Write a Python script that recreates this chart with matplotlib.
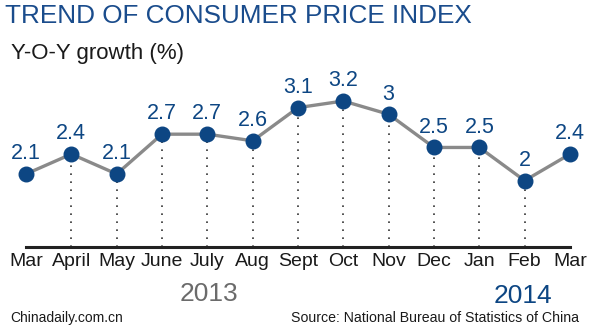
import matplotlib.pyplot as plt

plt.rcParams['font.family'] = ['Liberation Sans', 'DejaVu Sans']

# CPI year-on-year growth, March 2013 to March 2014
months = ['Mar', 'April', 'May', 'June', 'July', 'Aug', 'Sept', 'Oct',
          'Nov', 'Dec', 'Jan', 'Feb', 'Mar']
cpi = [2.1, 2.4, 2.1, 2.7, 2.7, 2.6, 3.1, 3.2, 3.0, 2.5, 2.5, 2.0, 2.4]
value_labels = ['2.1', '2.4', '2.1', '2.7', '2.7', '2.6', '3.1', '3.2',
                '3', '2.5', '2.5', '2', '2.4']

blue = '#0d4683'
gray_line = '#8a8a8a'

fig = plt.figure(figsize=(5.96, 3.28), dpi=100)
ax = fig.add_axes([26 / 596, (328 - 247) / 328, (570 - 26) / 596, 146 / 328])
ax.set_xlim(0, len(months) - 1)
ax.set_ylim(1.0, 3.2)

x = list(range(len(months)))

# dotted drop lines (not for the two end points)
ax.vlines(x[1:-1], 1.0, cpi[1:-1], colors='#333333', lw=1.2,
          linestyles=(0, (1, 3.8)), zorder=1)

ax.plot(x, cpi, color=gray_line, lw=2.4, zorder=2, clip_on=False)
ax.scatter(x, cpi, s=110, color=blue, zorder=3, clip_on=False)

for xi, yi, lab in zip(x, cpi, value_labels):
    ax.annotate(lab, (xi, yi), xytext=(0, 7), textcoords='offset points',
                ha='center', va='bottom', fontsize=15.5, color=blue)

for s in ['top', 'right', 'left']:
    ax.spines[s].set_visible(False)
ax.spines['bottom'].set_linewidth(2.2)
ax.spines['bottom'].set_color('#222222')
ax.set_yticks([])
ax.set_xticks(x)
ax.set_xticklabels(months, fontsize=14, color='#1a1a1a')
ax.tick_params(axis='x', length=0, pad=4)

fig.text(5 / 596, 1 - 16 / 328, 'TREND OF CONSUMER PRICE INDEX', fontsize=18.8,
         color='#1a4c8c', va='center', ha='left')
fig.text(11 / 596, 1 - 53 / 328, 'Y-O-Y growth (%)', fontsize=16,
         color='#1a1a1a', va='center', ha='left')
fig.text(209 / 596, 1 - 294 / 328, '2013', fontsize=19, color='#6b6b6b',
         va='center', ha='center')
fig.text(523 / 596, 1 - 296 / 328, '2014', fontsize=19, color=blue,
         va='center', ha='center')
fig.text(10 / 596, 1 - 318 / 328, 'Chinadaily.com.cn', fontsize=10,
         color='#1a1a1a', va='center', ha='left')
fig.text(579 / 596, 1 - 318 / 328, 'Source: National Bureau of Statistics of China',
         fontsize=10.2, color='#1a1a1a', va='center', ha='right')

fig.savefig('out.png', dpi=100)
